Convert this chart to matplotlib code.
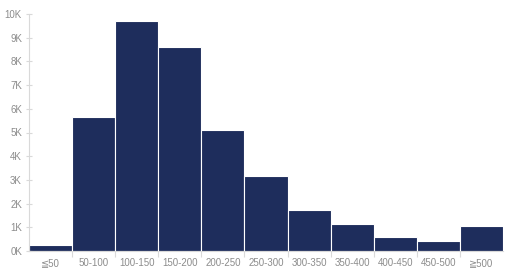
import matplotlib
matplotlib.use('Agg')
import matplotlib.pyplot as plt
from matplotlib.ticker import FuncFormatter

plt.rcParams['font.family'] = ['Liberation Sans', 'DejaVu Sans']

# Data
categories = ['≦50', '50-100', '100-150', '150-200', '200-250', '250-300',
              '300-350', '350-400', '400-450', '450-500', '≧500']
counts = [270, 5640, 9690, 8590, 5090, 3150, 1740, 1130, 600, 420, 1070]

bar_color = '#1e2d5c'
axis_color = '#d9d9d9'
text_color = '#8c8c8c'

fig = plt.figure(figsize=(5.23, 2.70), dpi=100)
ax = fig.add_axes([29 / 523, 19 / 270, 474 / 523, 237 / 270])

x = list(range(len(categories)))
ax.bar(x, counts, width=1.0, color=bar_color, edgecolor='white', linewidth=0.8)

ax.set_xlim(-0.5, len(categories) - 0.5)
ax.set_ylim(0, 10000)
ax.set_yticks(range(0, 10001, 1000))
ax.yaxis.set_major_formatter(FuncFormatter(lambda v, p: f'{int(v / 1000)}K'))

ax.set_xticks(x)
ax.set_xticklabels(categories)
ax.set_xticks([i + 0.5 for i in x[:-1]], minor=True)

for side in ['top', 'right']:
    ax.spines[side].set_visible(False)
for side in ['left', 'bottom']:
    ax.spines[side].set_color(axis_color)
    ax.spines[side].set_linewidth(0.8)

ax.tick_params(axis='x', which='major', length=0, pad=5, labelsize=7, labelcolor=text_color)
ax.tick_params(axis='x', which='minor', length=4, color=axis_color, width=0.8)
ax.tick_params(axis='y', length=4, direction='inout', color=axis_color, width=0.8,
               labelsize=7, labelcolor=text_color, pad=3)

fig.savefig('out.png', dpi=100)
